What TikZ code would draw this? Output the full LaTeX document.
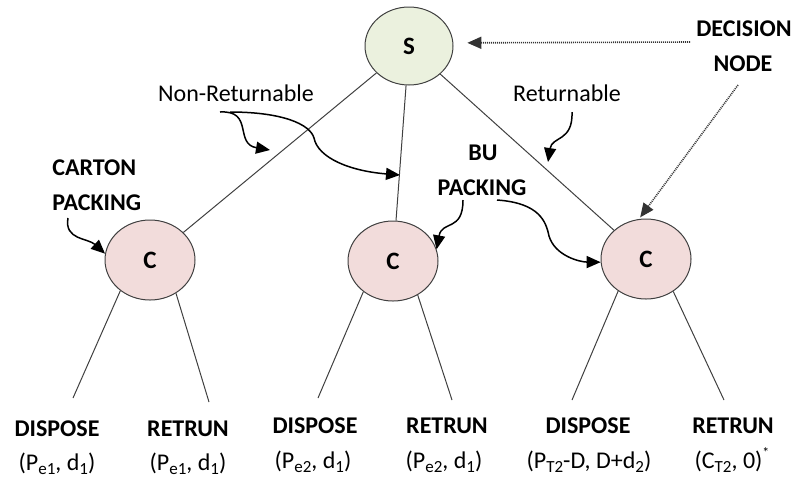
\documentclass[tikz,border=0pt]{standalone}
\usepackage{fontspec}
\setmainfont{Carlito}
\usetikzlibrary{arrows.meta,shapes.geometric}
\definecolor{sfill}{HTML}{EBF1DE}
\definecolor{cfill}{HTML}{F2DCDB}
\definecolor{edgec}{HTML}{404040}
\newcommand{\lsub}[1]{\raisebox{-0.4ex}{\fontsize{8.5}{9}\selectfont #1}}
\newcommand{\lsup}[1]{\raisebox{0.95ex}{\fontsize{7}{8}\selectfont #1}}
\begin{document}
\begin{tikzpicture}[x=0.5pt,y=-0.5pt,
  txt/.style={font=\fontsize{12}{14}\selectfont, inner sep=0, anchor=base},
  btxt/.style={font=\fontsize{12}{14}\selectfont\bfseries, inner sep=0, anchor=base},
  decnode/.style={ellipse, draw=edgec, line width=0.5pt, fill=sfill, minimum width=44pt, minimum height=39pt, inner sep=0, font=\fontsize{12.5}{14}\selectfont\bfseries},
  chnode/.style={decnode, fill=cfill, minimum width=45pt, minimum height=40pt},
  edge/.style={draw=edgec, line width=0.5pt},
  curvarrow/.style={draw=black, line width=0.75pt, -{Triangle[length=7pt,width=6pt]}},
  dotarrow/.style={draw=black!80, line width=0.8pt, dash pattern=on 0.5pt off 0.5pt, -{Triangle[length=7pt,width=6pt]}}
]
\useasboundingbox (0,0) rectangle (796,478);

% decision and chance nodes
\node[decnode] (S) at (409,46) {S};
\node[chnode] (C1) at (150,260) {C};
\node[chnode] (C2) at (393,261) {C};
\node[chnode] (C3) at (646,259) {C};

% tree edges
\draw[edge] (S) -- (C1);
\draw[edge] (S) -- (C2);
\draw[edge] (S) -- (C3);

% leaf ends
\coordinate (e11) at (73,398);
\coordinate (e12) at (209,402);
\coordinate (e21) at (318,398);
\coordinate (e22) at (452,400);
\coordinate (e31) at (572,400);
\coordinate (e32) at (724,400);
\draw[edge] (C1.226) -- (e11);
\draw[edge] (C1.308) -- (e12);
\draw[edge] (C2.226) -- (e21);
\draw[edge] (C2.306) -- (e22);
\draw[edge] (C3.229) -- (e31);
\draw[edge] (C3.310) -- (e32);

% leaf labels
\node[btxt] (o1) at (57,436) {DISPOSE};
\node[txt]  (v1) at (57,470) {(P\lsub{e1}, d\lsub{1})};
\node[btxt] (o2) at (188,436) {RETRUN};
\node[txt]  (v2) at (188,470) {(P\lsub{e1}, d\lsub{1})};
\node[btxt] (o3) at (315,433) {DISPOSE};
\node[txt]  (v3) at (313,468) {(P\lsub{e2}, d\lsub{1})};
\node[btxt] (o4) at (447,433) {RETRUN};
\node[txt]  (v4) at (444,468) {(P\lsub{e2}, d\lsub{1})};
\node[btxt] (o5) at (588,433) {DISPOSE};
\node[txt]  (v5) at (589,468) {(P\lsub{T2}-D, D+d\lsub{2})};
\node[btxt] (o6) at (733,433) {RETRUN};
\node[txt]  (v6) at (732,468) {(C\lsub{T2}, 0)\lsup{*}};

% annotation labels
\node[txt] (nr) at (236,101.5) {Non-Returnable};
\node[txt] (rt) at (567,101.5) {Returnable};
\node[btxt, anchor=base west] (cp1) at (52,175) {CARTON};
\node[btxt, anchor=base west] (cp2) at (52,210) {PACKING};
\node[btxt] (bu1) at (483,160) {BU};
\node[btxt] (bu2) at (482,195) {PACKING};
\node[btxt] (dn1) at (744,36) {DECISION};
\node[btxt] (dn2) at (743,71) {NODE};

% free ends of annotation arrows
\coordinate (nrs1) at (220,112);
\coordinate (nrt1) at (270,150);
\coordinate (nrs2) at (230,112);
\coordinate (nrt2) at (400,175);
\coordinate (rts) at (572,112);
\coordinate (rtt) at (548,162);
\coordinate (cps) at (68,218);
\coordinate (bus1) at (463,200);
\coordinate (bus2) at (497,200);
\coordinate (dns1) at (690,42);
\coordinate (dns2) at (738,85);

% curved annotation arrows
\draw[curvarrow] (nrs1) .. controls (254,110) and (234,144) .. (nrt1);
\draw[curvarrow] (nrs2) .. controls (282,112) and (310,124) .. (314,138)
                        .. controls (318,158) and (350,171) .. (nrt2);
\draw[curvarrow] (rts) .. controls (573,142) and (552,136) .. (rtt);
\draw[curvarrow] (cps) .. controls (64,240) and (88,238) .. (C1.172);
\draw[curvarrow] (bus1) .. controls (463,232) and (442,220) .. (C2.15);
\draw[curvarrow] (bus2) .. controls (540,203) and (546,222) .. (549,236)
                        .. controls (555,256) and (580,262) .. (C3.184);

% dotted pointers to decision nodes
\draw[dotarrow, shorten >=7pt] (dns1) -- (S.4);
\draw[dotarrow, shorten >=1pt] (dns2) -- (C3.100);
\end{tikzpicture}
\end{document}
